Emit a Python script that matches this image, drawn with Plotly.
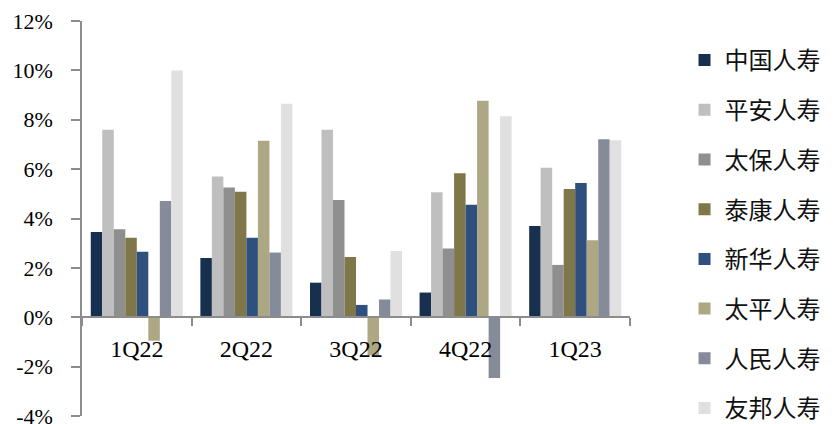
import plotly.graph_objects as go

categories = ["1Q22", "2Q22", "3Q22", "4Q22", "1Q23"]
companies = ["中国人寿", "平安人寿", "太保人寿", "泰康人寿", "新华人寿", "太平人寿", "人民人寿", "友邦人寿"]
china_life = [3.45, 2.4, 1.4, 1.0, 3.7]
pingan_life = [7.6, 5.7, 7.6, 5.06, 6.06]
cpic_life = [3.56, 5.26, 4.75, 2.78, 2.12]
taikang_life = [3.22, 5.08, 2.44, 5.83, 5.2]
newchina_life = [2.65, 3.22, 0.5, 4.56, 5.44]
taiping_life = [-0.95, 7.15, -1.54, 8.77, 3.12]
picc_life = [4.71, 2.62, 0.72, -2.46, 7.21]
aia_life = [10.0, 8.65, 2.68, 8.14, 7.17]
series = [china_life, pingan_life, cpic_life, taikang_life, newchina_life, taiping_life, picc_life, aia_life]
colors = ["#17304f", "#bfbfbf", "#8f8f8f", "#7f7649", "#2f4f7f", "#aea784", "#858b99", "#e0e0e0"]
y_ticks = [-4, -2, 0, 2, 4, 6, 8, 10, 12]

fig = go.Figure()
for name, vals, col in zip(companies, series, colors):
    fig.add_trace(go.Bar(x=categories, y=vals, name=name, marker=dict(color=col, line=dict(width=0)),
                         legendgroup=name))

axis_col = "#8c8c8c"
serif = "Liberation Serif, Times New Roman, serif"
fig.update_layout(
    width=834, height=424,
    margin=dict(l=74, r=212, t=13, b=16, autoexpand=False),
    plot_bgcolor="white", paper_bgcolor="white",
    barmode="group", bargap=0.16, bargroupgap=0,
    showlegend=True,
    legend=dict(x=1.0995, xanchor="left", y=0.957, yanchor="top",
                font=dict(family="Noto Sans CJK SC", size=24, color="#111111"),
                tracegroupgap=15.5, bgcolor="rgba(0,0,0,0)"),
    xaxis=dict(anchor="free", position=0.25, showline=True, linecolor=axis_col, linewidth=1.5,
               ticks="outside", tickson="boundaries", ticklen=8, tickcolor=axis_col, tickwidth=1.5,
               tickfont=dict(family=serif, size=24, color="black"), ticklabelstandoff=10,
               showgrid=False, zeroline=False),
    yaxis=dict(range=[-4, 12], tickvals=y_ticks, ticktext=[f"{v}%" for v in y_ticks],
               showline=True, linecolor=axis_col, linewidth=1.5, ticks="outside", ticklen=9,
               tickcolor=axis_col, tickwidth=1.5, showgrid=False, zeroline=False,
               tickfont=dict(family=serif, size=22, color="black"), ticklabelstandoff=14),
)
fig.write_html("out.html")
